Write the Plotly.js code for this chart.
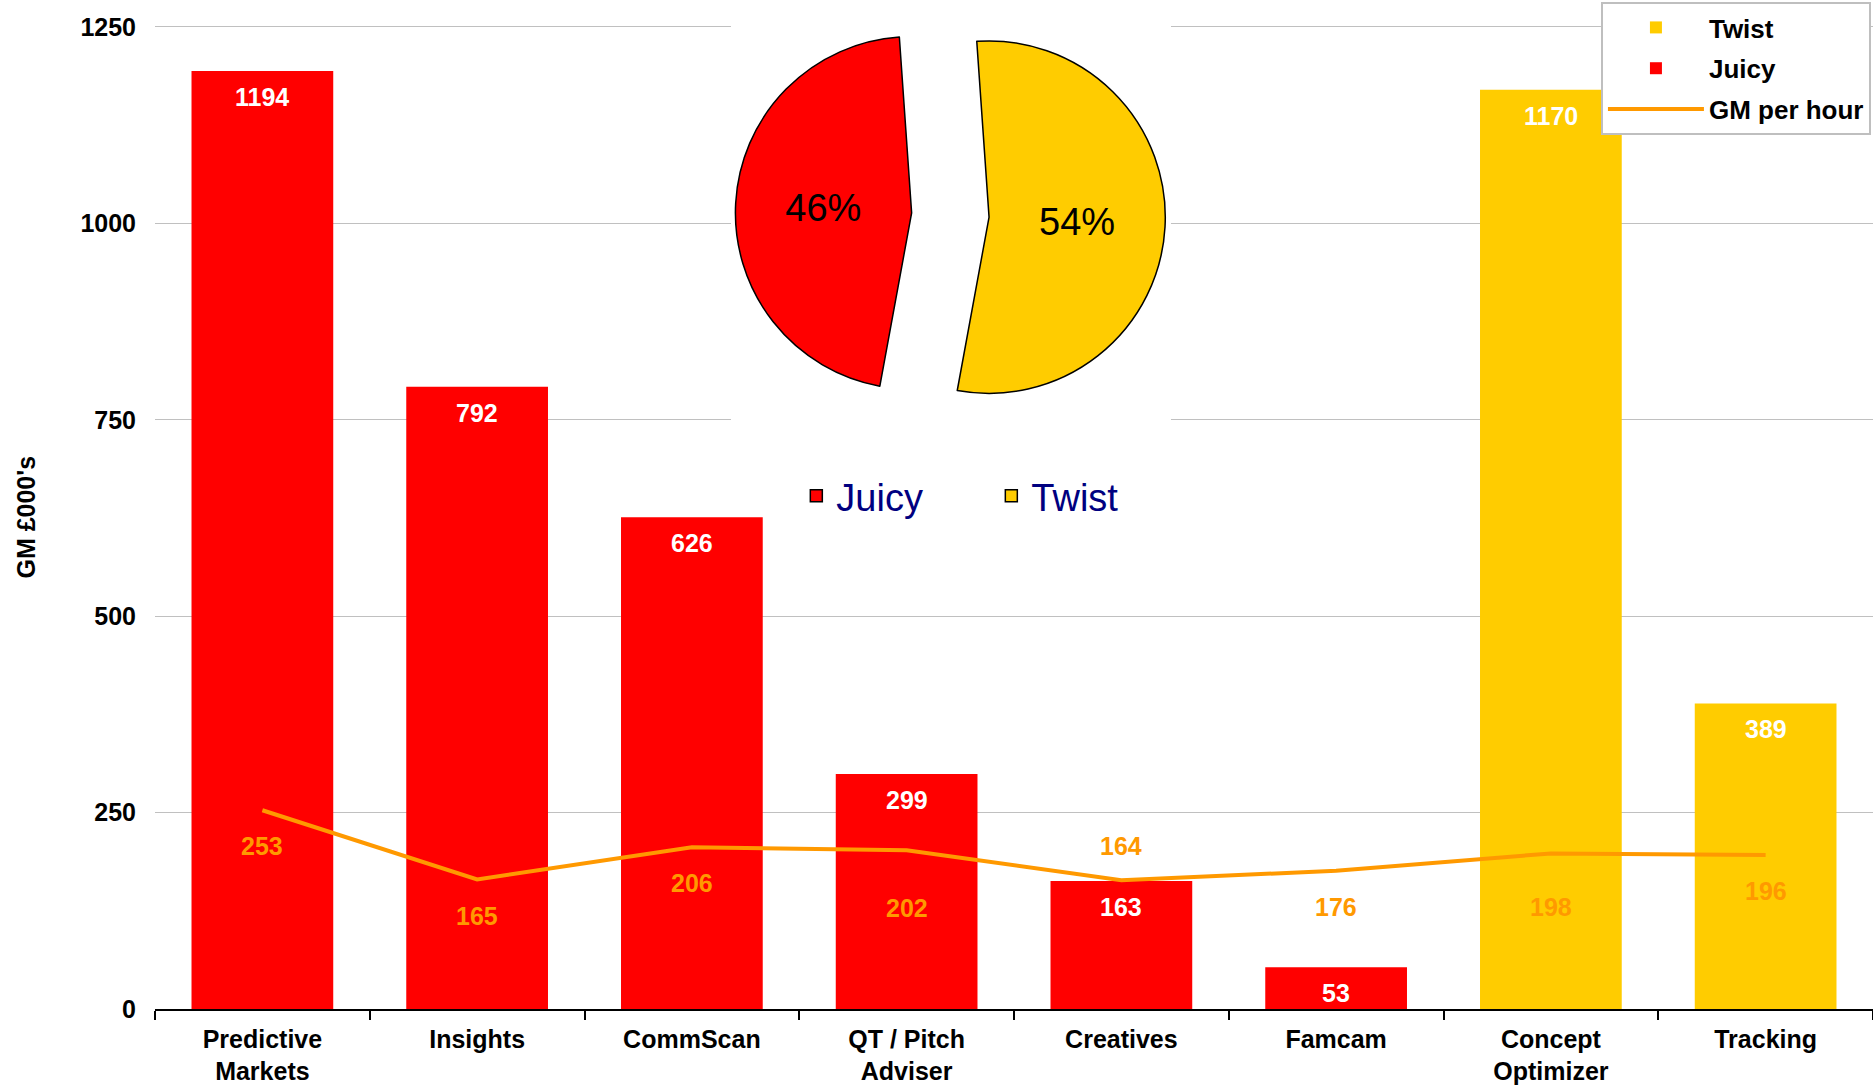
<!DOCTYPE html>
<html>
<head>
<meta charset="utf-8">
<script src="https://cdn.plot.ly/plotly-3.0.1.min.js"></script>
<style>
  html, body { margin: 0; padding: 0; background: #ffffff; }
  #chart { width: 1873px; height: 1089px; }
</style>
</head>
<body>
<div id="chart"></div>
<script>
// ---------- data ----------
const categories = ['Predictive Markets', 'Insights', 'CommScan', 'QT / Pitch Adviser',
                    'Creatives', 'Famcam', 'Concept Optimizer', 'Tracking'];
const tickLabels = ['Predictive<br>Markets', 'Insights', 'CommScan', 'QT / Pitch<br>Adviser',
                    'Creatives', 'Famcam', 'Concept<br>Optimizer', 'Tracking'];
const juicyCategories = ['Predictive Markets', 'Insights', 'CommScan', 'QT / Pitch Adviser', 'Creatives', 'Famcam'];
const juicyValues = [1194, 792, 626, 299, 163, 53];
const twistCategories = ['Concept Optimizer', 'Tracking'];
const twistValues = [1170, 389];
const gmPerHour = [253, 165, 206, 202, 164, 176, 198, 196];
const pieLabels = ['Juicy', 'Twist'];
const pieValues = [46, 54];
const yTicks = [0, 250, 500, 750, 1000, 1250];

// ---------- style ----------
const FONT = 'Liberation Sans, Arial, sans-serif';
const RED = '#FF0000';
const YELLOW = '#FFCC00';
const ORANGE = '#FF9900';
// vertical offset (px, downward) of each GM-per-hour label from its point
const lineLabelShift = [36, 37, 36, 58, -34, 36, 54, 36];

const traces = [
  {
    type: 'bar', name: 'Twist', x: twistCategories, y: twistValues, legendgroup: 'g1',
    marker: { color: YELLOW }, hoverinfo: 'x+y+name'
  },
  {
    type: 'bar', name: 'Juicy', x: juicyCategories, y: juicyValues, legendgroup: 'g2',
    marker: { color: RED }, hoverinfo: 'x+y+name'
  },
  {
    type: 'scatter', mode: 'lines', name: 'GM per hour', x: categories, y: gmPerHour, legendgroup: 'g3',
    line: { color: ORANGE, width: 4 }
  },
  {
    type: 'pie', labels: pieLabels, values: pieValues, sort: false,
    direction: 'counterclockwise', rotation: 190.4, pull: 0.22,
    marker: { colors: [RED, YELLOW], line: { color: '#000000', width: 1.5 } },
    textinfo: 'percent', textposition: 'inside', insidetextorientation: 'horizontal',
    textfont: { family: FONT, size: 38, color: '#000000' },
    domain: { x: [0.3378, 0.5881], y: [0.57384, 1.0] },
    legend: 'legend2'
  }
];

const annotations = [];
juicyCategories.forEach((c, i) => annotations.push({
  x: c, y: juicyValues[i], xref: 'x', yref: 'y', text: String(juicyValues[i]),
  showarrow: false, yanchor: 'middle', yshift: -26,
  font: { family: FONT, size: 25, color: '#FFFFFF', weight: 'bold' }
}));
twistCategories.forEach((c, i) => annotations.push({
  x: c, y: twistValues[i], xref: 'x', yref: 'y', text: String(twistValues[i]),
  showarrow: false, yanchor: 'middle', yshift: -26,
  font: { family: FONT, size: 25, color: '#FFFFFF', weight: 'bold' }
}));
categories.forEach((c, i) => annotations.push({
  x: c, y: gmPerHour[i], xref: 'x', yref: 'y', text: String(gmPerHour[i]),
  showarrow: false, yanchor: 'middle', yshift: -lineLabelShift[i],
  font: { family: FONT, size: 25, color: ORANGE, weight: 'bold' }
}));

const layout = {
  width: 1873, height: 1089,
  margin: { l: 155, r: 0, t: 0, b: 80 },
  paper_bgcolor: '#FFFFFF', plot_bgcolor: '#FFFFFF',
  font: { family: FONT, color: '#000000' },
  barmode: 'overlay', bargap: 0.34,
  showlegend: true,
  xaxis: {
    type: 'category', categoryorder: 'array', categoryarray: categories,
    tickmode: 'array', tickvals: categories, ticktext: tickLabels,
    tickson: 'boundaries', ticks: 'outside', ticklen: 9, tickwidth: 1.5, tickcolor: '#000000',
    ticklabelstandoff: 7,
    showline: true, linecolor: '#000000', linewidth: 1.5, showgrid: false, zeroline: false,
    tickfont: { family: FONT, size: 25, color: '#000000', weight: 'bold' },
    fixedrange: true
  },
  yaxis: {
    range: [0, 1252], domain: [0, 0.9748],
    tickmode: 'array', tickvals: yTicks,
    showgrid: true, gridcolor: '#C0C0C0', gridwidth: 1.2,
    zeroline: false, showline: false, ticks: '', ticklabelstandoff: 18,
    tickfont: { family: FONT, size: 25, color: '#000000', weight: 'bold' },
    title: { text: "GM £000's", standoff: 37, font: { family: FONT, size: 25, color: '#000000', weight: 'bold' } },
    automargin: false, fixedrange: true
  },
  legend: {
    x: 0.9988, xanchor: 'right', y: 0.998, yanchor: 'top',
    bgcolor: '#FFFFFF', bordercolor: '#BFBFBF', borderwidth: 2,
    font: { family: FONT, size: 26, color: '#000000', weight: 'bold' },
    traceorder: 'grouped', tracegroupgap: 4, itemwidth: 96
  },
  legend2: {
    orientation: 'h', x: 0.4868, xanchor: 'center', y: 0.5084, yanchor: 'middle',
    bgcolor: 'rgba(0,0,0,0)', entrywidth: 150,
    font: { family: FONT, size: 38, color: '#000080' }
  },
  shapes: [{
    type: 'rect', xref: 'x', yref: 'y', layer: 'between',
    x0: 2.182, x1: 4.231, y0: 686, y1: 1300,
    fillcolor: '#FFFFFF', line: { width: 0 }
  }],
  annotations: annotations
};

Plotly.newPlot('chart', traces, layout, { displayModeBar: false, responsive: false });
</script>
</body>
</html>
